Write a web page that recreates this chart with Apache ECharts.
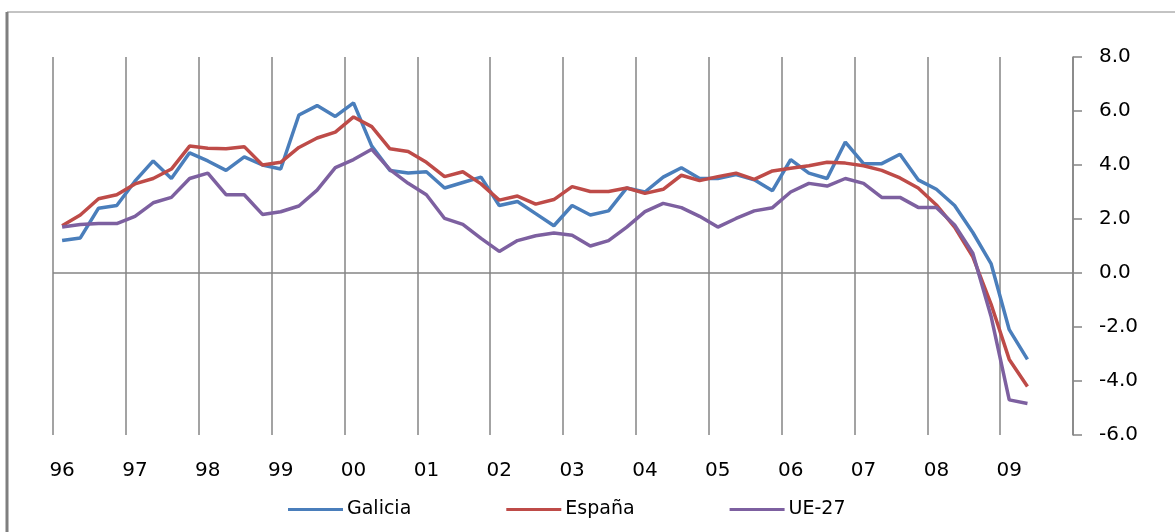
<!DOCTYPE html>
<html>
<head>
<meta charset="utf-8">
<script src="https://cdn.jsdelivr.net/npm/echarts@6/dist/echarts.min.js"></script>
<style>
html,body{margin:0;padding:0;background:#fff;}
#chart{width:1175px;height:532px;}
</style>
</head>
<body>
<div id="chart"></div>
<script>
// Year tick labels (one per year, 4 quarters each)
var yearLabels = ["96","97","98","99","00","01","02","03","04","05","06","07","08","09"];
var seriesNames = ["Galicia","España","UE-27"];

// Quarterly values, 1996 T1 .. 2009 T2
var galicia = [1.2,1.3,2.4,2.5, 3.4,4.15,3.5,4.45, 4.15,3.8,4.3,4.0, 3.85,5.85,6.2,5.8,
  6.3,4.7,3.8,3.7, 3.75,3.15,3.35,3.55, 2.5,2.65,2.2,1.75, 2.5,2.15,2.3,3.15,
  3.0,3.55,3.9,3.5, 3.5,3.65,3.45,3.05, 4.2,3.7,3.5,4.85, 4.05,4.05,4.4,3.45,
  3.1,2.5,1.5,0.35, -2.1,-3.2];
var espana = [1.75,2.15,2.75,2.9, 3.3,3.5,3.85,4.7, 4.62,4.6,4.68,4.0, 4.1,4.65,5.0,5.22,
  5.78,5.42,4.6,4.5, 4.1,3.57,3.75,3.3, 2.7,2.85,2.55,2.72, 3.2,3.02,3.02,3.15,
  2.95,3.1,3.62,3.42, 3.57,3.7,3.47,3.78, 3.88,3.97,4.1,4.07, 3.97,3.8,3.52,3.15,
  2.52,1.7,0.6,-1.15, -3.2,-4.2];
var ue27 = [1.7,1.8,1.83,1.83, 2.1,2.6,2.8,3.5, 3.7,2.9,2.9,2.17, 2.27,2.48,3.07,3.9,
  4.2,4.58,3.83,3.32, 2.9,2.02,1.8,1.28, 0.8,1.2,1.38,1.48, 1.4,1.0,1.2,1.7,
  2.27,2.58,2.42,2.1, 1.7,2.02,2.3,2.42, 3.0,3.32,3.22,3.5, 3.32,2.8,2.8,2.43,
  2.43,1.78,0.73,-1.6, -4.7,-4.83];

var yMin = -6, yMax = 8, yStep = 2;

var categories = [];
yearLabels.forEach(function (y) {
  for (var q = 1; q <= 4; q++) categories.push(y + "-T" + q);
});

var colors = ["#4A7EBB", "#BE4B48", "#7D60A0"];
var gridColor = "#858585";
var font = "DejaVu Sans";

function lineSeries(name, data, color, extra) {
  var s = {
    name: name, type: "line", data: data, symbol: "none",
    lineStyle: { width: 3.5, color: color }, itemStyle: { color: color },
    z: 3
  };
  if (extra) Object.assign(s, extra);
  return s;
}

var chart = echarts.init(document.getElementById("chart"), null, { renderer: "canvas" });
chart.setOption({
  animation: false,
  backgroundColor: "#ffffff",
  color: colors,
  graphic: [
    { type: "line", shape: { x1: 7, y1: 12, x2: 1175, y2: 12 }, style: { stroke: "#888888", lineWidth: 1 } },
    { type: "line", shape: { x1: 7, y1: 12, x2: 7, y2: 532 }, style: { stroke: "#7f7f7f", lineWidth: 3 } }
  ],
  grid: { left: 53, right: 102, top: 57, bottom: 97, containLabel: false },
  legend: {
    left: 283, top: 495,
    icon: "rect", itemWidth: 55, itemHeight: 3, itemGap: 95,
    textStyle: { fontFamily: font, fontSize: 19, color: "#000", padding: [0, 0, 0, -1] },
    data: seriesNames
  },
  xAxis: {
    type: "category",
    data: categories,
    boundaryGap: true,
    axisLine: { show: false, onZero: false },
    axisTick: { show: false },
    axisLabel: {
      interval: 3, margin: 26,
      fontFamily: font, fontSize: 20, color: "#000",
      formatter: function (v) { return v.split("-")[0]; }
    },
    splitLine: { show: true, interval: 3, lineStyle: { color: gridColor, width: 1.5 } }
  },
  yAxis: {
    type: "value", position: "right",
    min: yMin, max: yMax, interval: yStep,
    axisLine: { show: true, lineStyle: { color: gridColor, width: 1.5 } },
    axisTick: { show: true, length: 9, inside: false, lineStyle: { color: gridColor, width: 1.5 } },
    axisLabel: {
      margin: 26, fontFamily: font, fontSize: 20, color: "#000",
      formatter: function (v) { return v.toFixed(1); }
    },
    splitLine: { show: false }
  },
  series: [
    lineSeries(seriesNames[0], galicia, colors[0], {
      markLine: {
        silent: true, symbol: "none", label: { show: false },
        lineStyle: { color: gridColor, width: 1.5, type: "solid" },
        data: [{ yAxis: 0 }], z: 1
      }
    }),
    lineSeries(seriesNames[1], espana, colors[1]),
    lineSeries(seriesNames[2], ue27, colors[2])
  ]
});
</script>
</body>
</html>
